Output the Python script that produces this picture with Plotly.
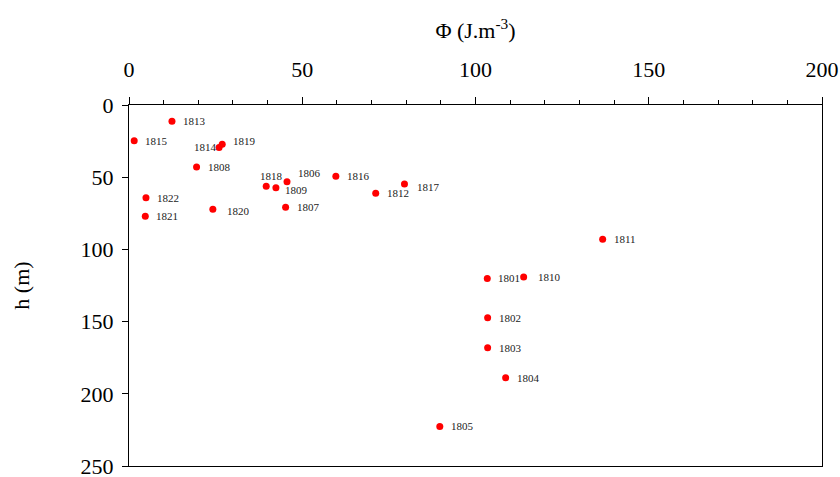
import plotly.graph_objects as go

# Station years with energy density Φ (J.m^-3) and depth h (m)
years = ["1801", "1802", "1803", "1804", "1805", "1806", "1807", "1808", "1809",
         "1810", "1811", "1812", "1813", "1814", "1815", "1816", "1817", "1818",
         "1819", "1820", "1821", "1822"]
phi = [103.4, 103.5, 103.5, 108.7, 89.7, 45.6, 45.2, 19.5, 42.4,
       113.9, 136.7, 71.2, 12.4, 26.0, 1.5, 59.7, 79.5, 39.6,
       26.9, 24.2, 4.7, 4.9]
depth = [120.1, 147.4, 168.1, 188.8, 222.6, 53.1, 70.8, 43.0, 57.3,
         119.1, 92.9, 61.2, 11.3, 29.4, 24.8, 49.4, 54.7, 56.3,
         27.1, 72.2, 77.0, 64.2]

serif = "'Times New Roman', 'Liberation Serif', 'DejaVu Serif', serif"

# Label placement: (xanchor, xshift, yshift) per year, default to the right
label_style = {
    "1814": ("right", 0, 0),
    "1818": ("center", 5, 10),
    "1806": ("left", 9, 9),
    "1809": ("left", 7, -2),
    "1819": ("left", 9, 3),
    "1817": ("left", 11, -3),
    "1820": ("left", 12, -2),
    "1810": ("left", 12, 0),
}

fig = go.Figure(go.Scatter(
    x=phi, y=depth, mode="markers",
    marker=dict(color="#ff0000", size=7),
    cliponaxis=False, showlegend=False, hoverinfo="x+y",
))

for yr, xv, yv in zip(years, phi, depth):
    anchor, dx, dy = label_style.get(yr, ("left", 9, 0))
    fig.add_annotation(
        x=xv, y=yv, text=yr, showarrow=False,
        xanchor=anchor, yanchor="middle", xshift=dx, yshift=dy,
        font=dict(family=serif, size=11, color="#222"),
    )

fig.update_layout(
    width=840, height=477,
    margin=dict(l=129, r=18, t=105, b=11),
    paper_bgcolor="white", plot_bgcolor="white",
    font=dict(family=serif, size=22, color="black"),
    xaxis=dict(
        side="top", range=[0, 200], dtick=50, tick0=0,
        showgrid=False, zeroline=False, automargin=False,
        showline=True, linecolor="black", linewidth=1, mirror=True,
        ticks="outside", ticklen=7, tickcolor="black",
        minor=dict(dtick=10, ticks="outside", ticklen=4, tickcolor="black"),
        ticklabelstandoff=11, ticklabeloverflow="allow",
        tickfont=dict(family=serif, size=22),
        title=dict(text="Φ (J.m<sup>-3</sup>)", standoff=12,
                   font=dict(family=serif, size=22)),
    ),
    yaxis=dict(
        range=[250, 0], dtick=50, tick0=0,
        showgrid=False, zeroline=False, automargin=False,
        showline=True, linecolor="black", linewidth=1, mirror=True,
        ticks="outside", ticklen=6, tickcolor="black",
        ticklabelstandoff=4, ticklabeloverflow="allow",
        tickfont=dict(family=serif, size=22),
        title=dict(text="h (m)", standoff=44,
                   font=dict(family=serif, size=22)),
    ),
)

fig.write_html("out.html")
